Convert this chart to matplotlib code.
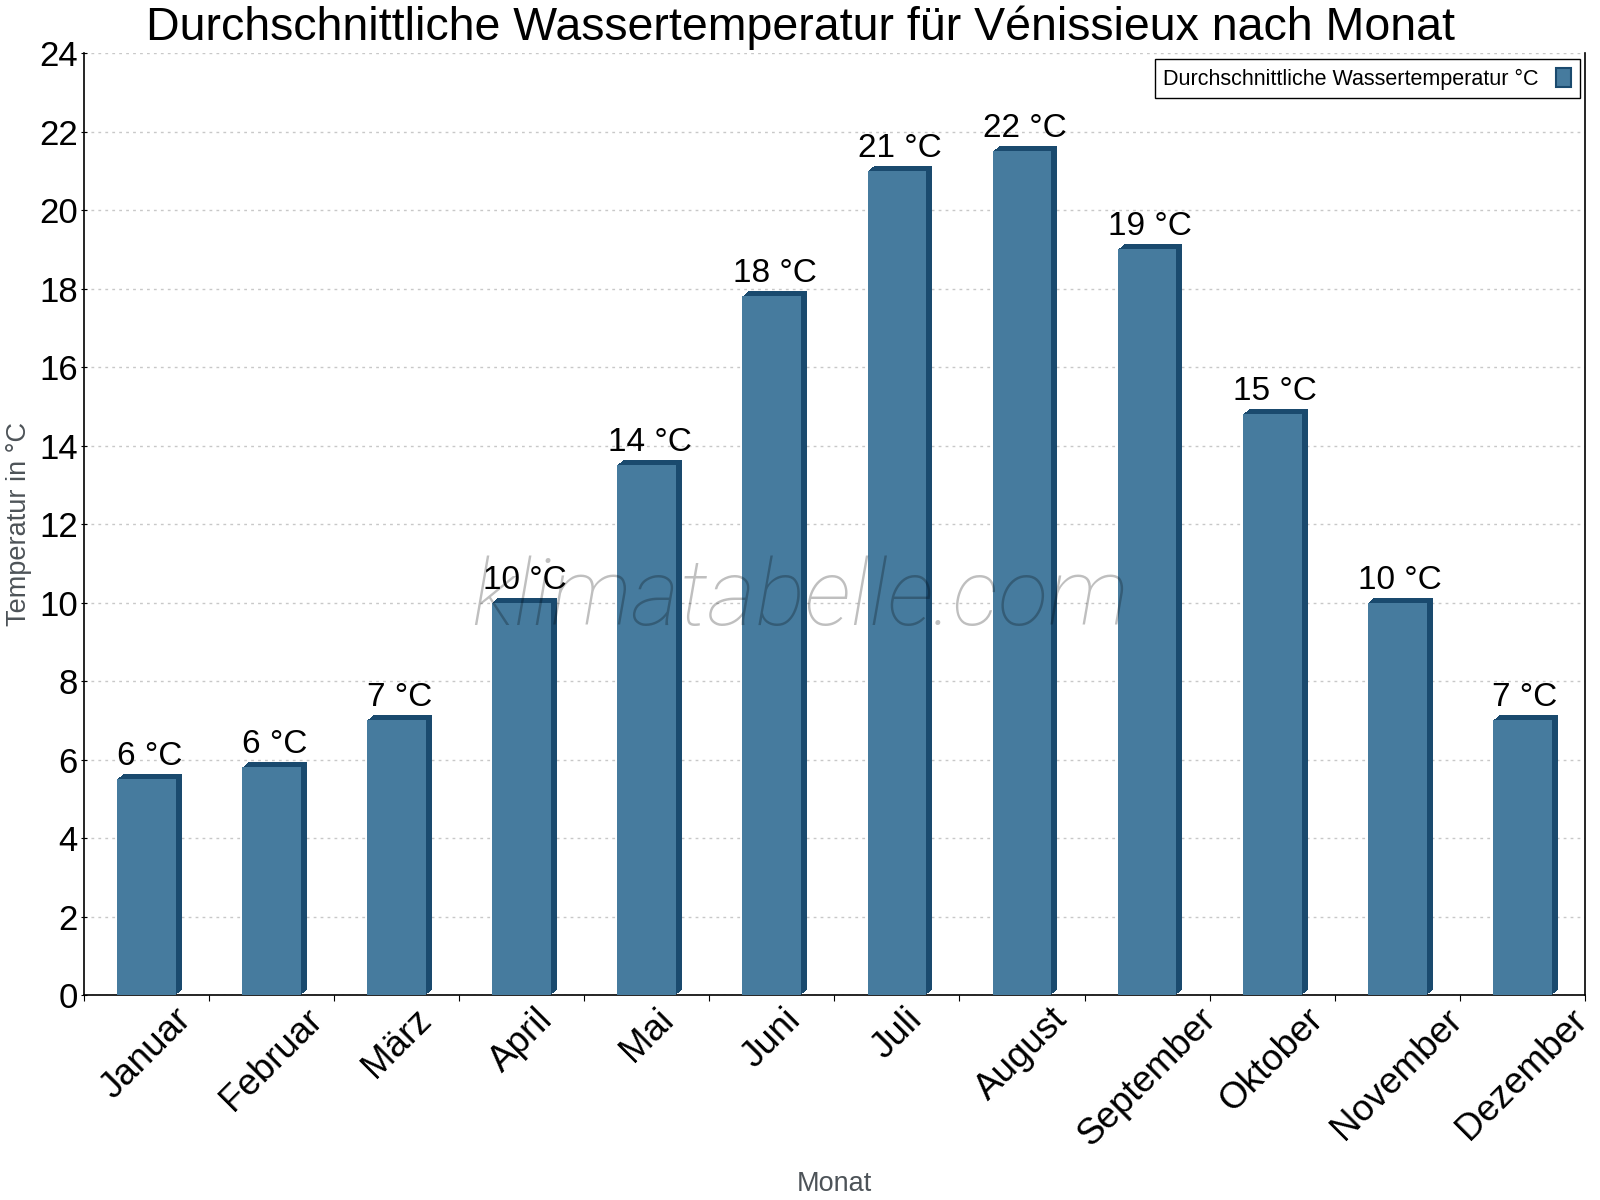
import matplotlib.pyplot as plt
import matplotlib.transforms as mtransforms
from matplotlib.patches import Patch

# Daten
monate = ["Januar", "Februar", "März", "April", "Mai", "Juni", "Juli",
          "August", "September", "Oktober", "November", "Dezember"]
wassertemp = [5.5, 5.8, 7.0, 10.0, 13.5, 17.8, 21.0, 21.5, 19.0, 14.8, 10.0, 7.0]
y_ticks = list(range(0, 25, 2))

front_col = "#467b9e"
dark_col = "#1a4a6e"

plt.rcParams["font.family"] = ["Liberation Sans", "DejaVu Sans"]

fig = plt.figure(figsize=(16, 12), dpi=100)
ax = fig.add_axes([0.0525, 0.1708, 0.938, 0.785])

x = list(range(len(monate)))
breite = 0.47

# 3D-Tiefe: mehrere dunkle, verschobene Kopien hinter der Front
depth_px = 6
for i in range(1, depth_px + 1):
    off = mtransforms.ScaledTranslation(i / 100, i * 5 / 6 / 100, fig.dpi_scale_trans)
    ax.bar(x, wassertemp, width=breite, color=dark_col, zorder=2,
           transform=ax.transData + off, linewidth=0)
ax.bar(x, wassertemp, width=breite, color=front_col, zorder=3, linewidth=0)

# Wertebeschriftung
for xi, v in zip(x, wassertemp):
    ax.annotate(f"{round(v + 1e-9):.0f} °C", (xi, v), xytext=(2, 5),
                textcoords="offset points", ha="center", va="bottom",
                fontsize=24, color="black", zorder=5)

ax.set_xlim(-0.5, len(monate) - 0.5)
ax.set_ylim(0, 24)
ax.set_yticks(y_ticks)
ax.tick_params(axis="y", labelsize=25, direction="inout", length=5, pad=2)

ax.set_xticks([i - 0.5 for i in range(len(monate) + 1)])
ax.set_xticklabels([])
ax.set_xticks(x, minor=True)
ax.set_xticklabels(monate, minor=True, rotation=45, ha="center", va="top", fontsize=26.5)
ax.tick_params(axis="x", which="major", direction="out", length=4.5)
ax.tick_params(axis="x", which="minor", length=0, pad=5)

ax.yaxis.grid(True, color="#c8c8c8", linestyle=(0, (2, 3)), linewidth=1)
ax.set_axisbelow(True)
ax.spines["top"].set_visible(False)
for s in ["left", "right", "bottom"]:
    ax.spines[s].set_color("black")
    ax.spines[s].set_linewidth(1.2)

ax.set_ylabel("Temperatur in °C", fontsize=19.5, color="#4d5358", va="center")
ax.yaxis.set_label_coords(-0.043, 0.5)
ax.set_xlabel("Monat", fontsize=19.5, color="#4d5358", va="center")
ax.xaxis.set_label_coords(0.5, -0.2006)

fig.text(0.5, 0.995, "Durchschnittliche Wassertemperatur für Vénissieux nach Monat",
         ha="center", va="top", fontsize=33.5)

# Wasserzeichen
ax.text(0.477, 0.42, "klimatabelle.com", transform=ax.transAxes, ha="center",
        va="center", fontsize=67, color="black", alpha=0.25, style="italic",
        family=["Roboto", "DejaVu Sans"], fontweight="light", zorder=6)

handle = Patch(facecolor=front_col, edgecolor=dark_col, linewidth=1.5)
leg = ax.legend([handle], ["Durchschnittliche Wassertemperatur °C"], loc="upper right",
                bbox_to_anchor=(0.9967, 0.9936), borderaxespad=0, fontsize=15.5,
                markerfirst=False, fancybox=False, framealpha=1, edgecolor="black",
                handlelength=0.7, handleheight=1.0, borderpad=0.4)
leg.get_frame().set_linewidth(1.0)

fig.savefig("out.png", dpi=100)
